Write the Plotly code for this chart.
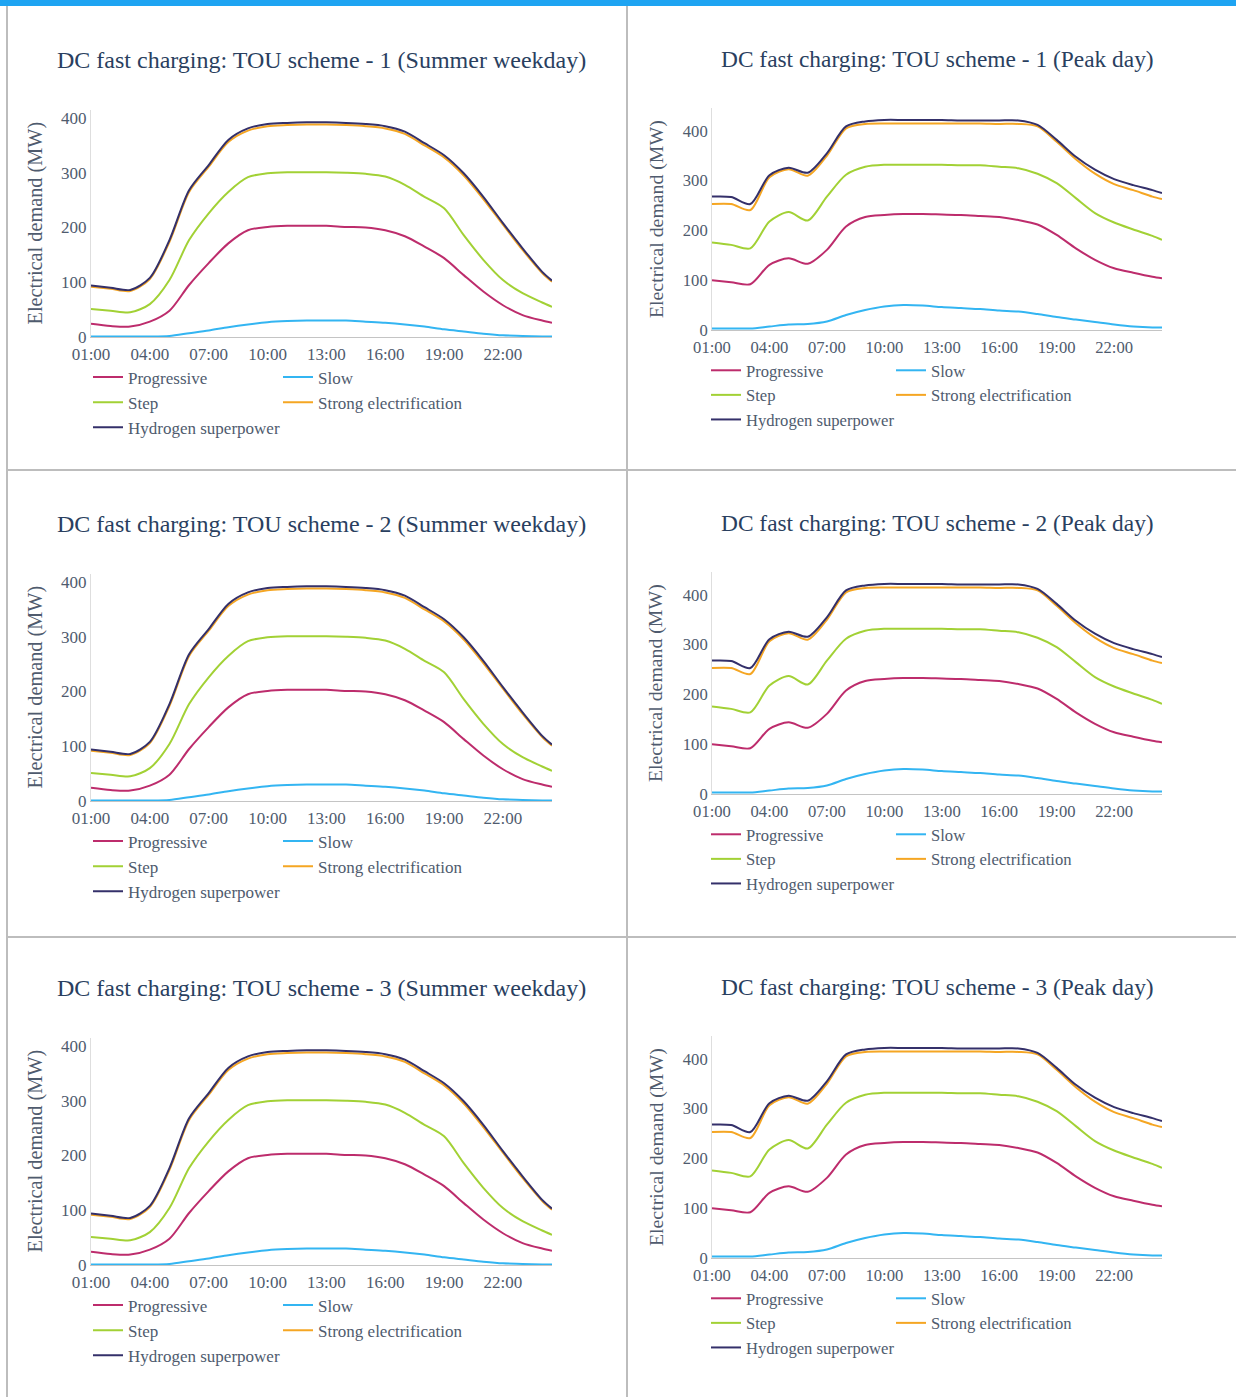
import plotly.graph_objects as go

FIG_W, FIG_H = 1236, 1397

# Hour of day for each reading (last reading half an hour after 24:00)
HOURS = [1, 2, 3, 4, 5, 6, 7, 8, 9, 10, 11, 12, 13, 14, 15, 16, 17, 18, 19, 20,
         21, 22, 23, 24, 24.5]
TICK_HOURS = [1, 4, 7, 10, 13, 16, 19, 22]
TICK_LABELS = ["01:00", "04:00", "07:00", "10:00", "13:00", "16:00", "19:00", "22:00"]
Y_TICKS = [0, 100, 200, 300, 400]

SCENARIOS = ["Progressive", "Slow", "Step", "Strong electrification", "Hydrogen superpower"]
COLORS = ["#bd2c6c", "#33b5f2", "#a2d135", "#f5a623", "#34306a"]

# Summer weekday demand (MW)
summer_progressive = [24, 20, 19, 28, 48, 95, 135, 171, 195, 201, 203, 203, 203, 201, 200,
                      195, 184, 165, 144, 113, 83, 58, 40, 30, 26]
summer_slow = [1, 1, 1, 1, 2, 7, 12, 18, 23, 27, 29, 30, 30, 30, 28, 26, 23, 19, 14, 10,
               6, 3, 2, 1, 1]
summer_step = [51, 48, 45, 60, 104, 177, 226, 265, 292, 299, 301, 301, 301, 300, 298, 293,
               278, 256, 235, 186, 141, 104, 80, 63, 55]
summer_strong = [92, 88, 84, 106, 174, 265, 311, 356, 377, 385, 387, 388, 388, 387, 385,
                 381, 371, 350, 328, 295, 252, 205, 159, 117, 101]
summer_hydrogen = [94, 90, 86, 108, 177, 268, 314, 360, 381, 389, 391, 392, 392, 391, 389,
                   385, 375, 354, 332, 299, 256, 208, 162, 119, 103]

# Peak day demand (MW)
peak_progressive = [100, 96, 92, 131, 144, 133, 161, 208, 227, 231, 233, 233, 232, 231, 229,
                    227, 221, 212, 191, 164, 141, 124, 115, 107, 104]
peak_slow = [3, 3, 3, 7, 11, 12, 17, 30, 40, 47, 50, 49, 46, 44, 42, 39, 37, 32, 26, 21,
             16, 11, 7, 5, 5]
peak_step = [176, 171, 164, 218, 237, 220, 268, 312, 328, 332, 332, 332, 332, 331, 331, 328,
             325, 314, 295, 265, 235, 216, 202, 189, 181]
peak_strong = [253, 253, 241, 307, 323, 310, 350, 405, 414, 415, 415, 415, 415, 415, 415,
               414, 414, 409, 378, 343, 314, 293, 281, 268, 263]
peak_hydrogen = [268, 267, 253, 311, 326, 316, 355, 409, 419, 422, 422, 422, 422, 421, 421,
                 421, 421, 412, 382, 348, 322, 303, 291, 281, 275]

SUMMER = [summer_progressive, summer_slow, summer_step, summer_strong, summer_hydrogen]
PEAK = [peak_progressive, peak_slow, peak_step, peak_strong, peak_hydrogen]

PANEL_TITLES = [
    "DC fast charging: TOU scheme - 1 (Summer weekday)",
    "DC fast charging: TOU scheme - 1 (Peak day)",
    "DC fast charging: TOU scheme - 2 (Summer weekday)",
    "DC fast charging: TOU scheme - 2 (Peak day)",
    "DC fast charging: TOU scheme - 3 (Summer weekday)",
    "DC fast charging: TOU scheme - 3 (Peak day)",
]
PANEL_DATA = [SUMMER, PEAK, SUMMER, PEAK, SUMMER, PEAK]

SERIF = "Liberation Serif, Times New Roman, serif"
TITLE_COLOR = "#2a3f5f"
TEXT_COLOR = "#4f5b6e"
ROW_STEP = 465


def px(x):
    return x / FIG_W


def py(y):
    return 1 - y / FIG_H


# Pixel geometry of the two columns (row 1; later rows shift down).
# The right-hand column is drawn about 2% smaller.
COLUMN = [
    dict(x0=91, x1=552, top=110, bottom=337, ymax=414.6, title_x=321, title_y=60,
         ytitle_x=35, leg1=88, leg2=278, leg_top=359.5, xlabel_gap=2,
         title_size=24, tick_size=17, legend_size=17, ytitle_size=20.3),
    dict(x0=712, x1=1162, top=108, bottom=330, ymax=446, title_x=937, title_y=59,
         ytitle_x=656, leg1=706, leg2=891, leg_top=353, xlabel_gap=2,
         title_size=23.4, tick_size=16.6, legend_size=16.6, ytitle_size=19.8),
]

fig = go.Figure()
annotations = []
layout_axes = {}
legends = {}

for p in range(6):
    row, col = divmod(p, 2)
    g = COLUMN[col]
    dy = row * ROW_STEP - row
    top, bottom = g["top"] + dy, g["bottom"] + dy
    n = p + 1
    xa = "x" if n == 1 else f"x{n}"
    ya = "y" if n == 1 else f"y{n}"
    leg_a = "legend" if p == 0 else f"legend{2 * p + 1}"
    leg_b = f"legend{2 * p + 2}"

    for i, name in enumerate(SCENARIOS):
        fig.add_trace(go.Scatter(
            x=HOURS, y=PANEL_DATA[p][i], name=name, mode="lines",
            line=dict(color=COLORS[i], width=2, shape="spline", smoothing=0.8),
            xaxis=xa, yaxis=ya,
            legend=leg_a if i in (0, 2, 4) else leg_b,
        ))

    tickfont = dict(family=SERIF, size=g["tick_size"], color=TEXT_COLOR)
    layout_axes["xaxis" if n == 1 else f"xaxis{n}"] = dict(
        domain=[px(g["x0"]), px(g["x1"])], anchor=ya, range=[1, 24.5],
        tickvals=TICK_HOURS, ticktext=TICK_LABELS, showgrid=False, zeroline=False,
        showline=True, linecolor="#c4c4c4", linewidth=1, ticks="", automargin=False,
        ticklabelstandoff=g["xlabel_gap"], tickfont=tickfont,
    )
    layout_axes["yaxis" if n == 1 else f"yaxis{n}"] = dict(
        domain=[py(bottom), py(top)], anchor=xa, range=[0, g["ymax"]],
        tickvals=Y_TICKS, showgrid=False, zeroline=False,
        showline=True, linecolor="#dedede", linewidth=1, ticks="", automargin=False,
        tickfont=tickfont,
    )

    leg_common = dict(orientation="v", xanchor="left", yanchor="top",
                      y=py(g["leg_top"] + dy), bgcolor="rgba(0,0,0,0)",
                      font=dict(family=SERIF, size=g["legend_size"], color=TEXT_COLOR),
                      borderwidth=0, tracegroupgap=0)
    legends[leg_a] = dict(x=px(g["leg1"]), **leg_common)
    legends[leg_b] = dict(x=px(g["leg2"]), **leg_common)

    annotations.append(dict(
        text=PANEL_TITLES[p], x=px(g["title_x"]), y=py(g["title_y"] + dy),
        xref="paper", yref="paper", showarrow=False, xanchor="center", yanchor="middle",
        font=dict(family=SERIF, size=g["title_size"], color=TITLE_COLOR),
    ))
    annotations.append(dict(
        text="Electrical demand (MW)", x=px(g["ytitle_x"]), y=py((top + bottom) / 2),
        xref="paper", yref="paper", showarrow=False, textangle=-90,
        xanchor="center", yanchor="middle",
        font=dict(family=SERIF, size=g["ytitle_size"], color=TEXT_COLOR),
    ))

# Frame: blue top strip and grey cell dividers
shapes = [
    dict(type="rect", xref="paper", yref="paper", x0=0, x1=1, y0=py(6), y1=1,
         fillcolor="#1ea4f2", line=dict(width=0)),
    dict(type="line", xref="paper", yref="paper", x0=px(7), x1=px(7), y0=0, y1=py(6),
         line=dict(color="#bdbdbd", width=2)),
    dict(type="line", xref="paper", yref="paper", x0=px(627), x1=px(627), y0=0, y1=py(6),
         line=dict(color="#bdbdbd", width=2)),
    dict(type="line", xref="paper", yref="paper", x0=px(7), x1=1, y0=py(470), y1=py(470),
         line=dict(color="#bdbdbd", width=2)),
    dict(type="line", xref="paper", yref="paper", x0=px(7), x1=1, y0=py(937), y1=py(937),
         line=dict(color="#bdbdbd", width=2)),
]

fig.update_layout(
    width=FIG_W, height=FIG_H,
    margin=dict(l=0, r=0, t=0, b=0, autoexpand=False),
    paper_bgcolor="white", plot_bgcolor="white",
    annotations=annotations, shapes=shapes, **layout_axes, **legends,
)

fig.write_html("out.html")
